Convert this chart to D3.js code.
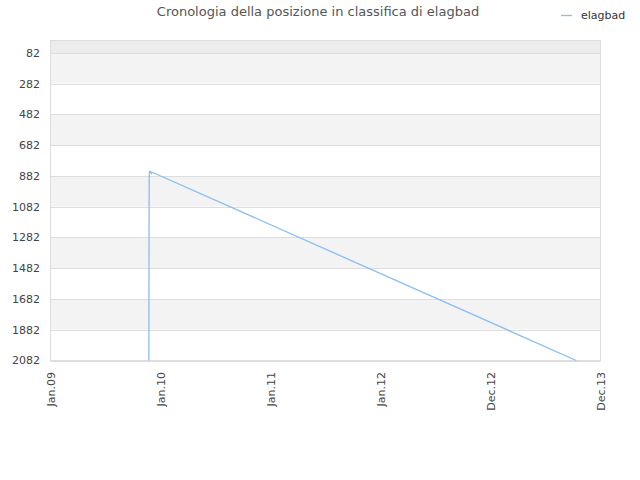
<!DOCTYPE html>
<html><head><meta charset="utf-8">
<script src="https://cdn.jsdelivr.net/npm/d3@7"></script>
<style>body{margin:0;background:#fff}svg{display:block;font-family:"DejaVu Sans",sans-serif}</style>
</head><body>
<svg id="c" width="640" height="480"></svg>
<script>
const seriesName = "elagbad";
const dates = ["2009-11-18","2009-11-19","2009-11-20","2009-11-24","2009-11-26","2009-11-29","2009-12-03","2013-09-13"];
const ranks = [2082, 905, 853, 853, 866, 859, 861, 2082];
const yTicks = [82, 282, 482, 682, 882, 1082, 1282, 1482, 1682, 1882, 2082];
const xTickDates = ["2009-01-01","2009-12-26","2010-12-20","2011-12-14","2012-12-07","2013-12-01"];
const xTickLabels = ["Jan.09","Jan.10","Jan.11","Jan.12","Dec.12","Dec.13"];

const parse = d3.utcParse("%Y-%m-%d");
const svg = d3.select("#c");
const L = 50.5, R = 600.5, T = 40.5, B = 360.5;
const x = d3.scaleUtc().domain([parse(xTickDates[0]), parse(xTickDates[xTickDates.length-1])]).range([L, R]);
const y = d3.scaleLinear().domain([1, 2082]).range([T, B]);

// bands
const bandEdges = [1].concat(yTicks);
for (let i = 0; i < bandEdges.length - 1; i++) {
  let fill = i === 0 ? "#ececec" : (i % 2 === 1 ? "#f3f3f3" : "#ffffff");
  svg.append("rect").attr("x", L).attr("width", R - L)
    .attr("y", y(bandEdges[i])).attr("height", y(bandEdges[i+1]) - y(bandEdges[i]))
    .attr("fill", fill);
}
// grid lines
svg.append("g").selectAll("line").data(yTicks).join("line")
  .attr("x1", L).attr("x2", R).attr("y1", d => Math.round(y(d)) + 0.5).attr("y2", d => Math.round(y(d)) + 0.5)
  .attr("stroke", "#dddddd");
svg.append("rect").attr("x", L).attr("y", T).attr("width", R - L).attr("height", B - T)
  .attr("fill", "none").attr("stroke", "#dddddd");

// y labels
svg.append("g").selectAll("text").data(yTicks).join("text")
  .attr("x", 40).attr("y", d => y(d)).attr("dy", "0.35em").attr("text-anchor", "end")
  .attr("font-size", 11).attr("fill", "#444").text(d => d);

// x labels
svg.append("g").selectAll("text").data(xTickDates).join("text")
  .attr("transform", d => `translate(${x(parse(d)) + 4},372) rotate(-90)`)
  .attr("text-anchor", "end").attr("font-size", 11).attr("fill", "#444")
  .text((d, i) => xTickLabels[i]);

// line
const pts = dates.map((d, i) => [parse(d), ranks[i]]);
svg.append("path").datum(pts)
  .attr("d", d3.line().x(d => x(d[0])).y(d => y(d[1])))
  .attr("fill", "none").attr("stroke", "#88bdf2").attr("stroke-width", 1.3);

// title
svg.append("text").attr("x", 318).attr("y", 16).attr("text-anchor", "middle")
  .attr("font-size", 13).attr("fill", "#555").text("Cronologia della posizione in classifica di elagbad");

// legend
svg.append("line").attr("x1", 561).attr("x2", 572).attr("y1", 15.5).attr("y2", 15.5)
  .attr("stroke", "#88bdf2").attr("stroke-width", 1.3);
svg.append("text").attr("x", 581).attr("y", 19).attr("font-size", 11).attr("fill", "#333").text(seriesName);
</script>
</body></html>
